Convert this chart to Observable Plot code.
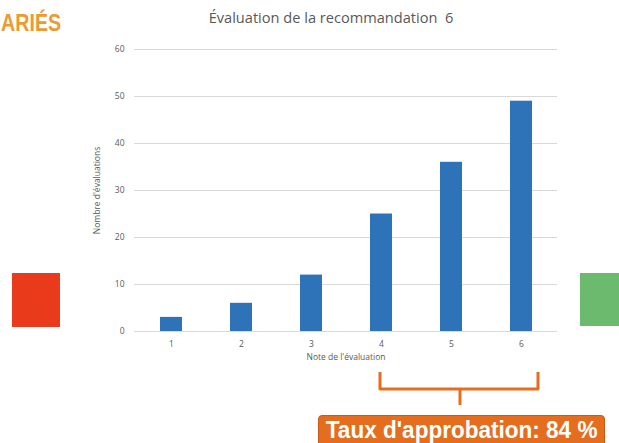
<!DOCTYPE html>
<html>
<head>
<meta charset="utf-8">
<script src="https://cdn.jsdelivr.net/npm/d3@7"></script>
<script src="https://cdn.jsdelivr.net/npm/@observablehq/plot@0.6"></script>
<style>
  html, body { margin: 0; padding: 0; background: #fff; }
  #wrap { position: relative; width: 619px; height: 443px; overflow: hidden; font-family: "Open Sans", sans-serif; }
  #chart { position: absolute; left: 0; top: 0; }
  .ov { position: absolute; }
  #title { left: 0; width: 662px; top: 7px; text-align: center; font-size: 14.6px; color: #595959; font-family: "Open Sans", sans-serif; }
  #brand { left: 1px; top: 9px; font-size: 24px; font-weight: bold; color: #ec9a32; font-family: "Liberation Sans", sans-serif; transform: scaleX(0.82); transform-origin: left center; }
  #red { left: 12px; top: 273px; width: 48px; height: 54px; background: #ea3a1c; }
  #green { left: 580px; top: 273px; width: 45px; height: 53px; background: #6cba6e; }
  #box { left: 318px; top: 415px; width: 285px; height: 34px; background: #e46e1e; border: 1px solid #c95a14; border-radius: 4px; color: #fff; text-align: center; line-height: 29px; white-space: nowrap; }
  #box span { display: inline-block; font-weight: bold; font-size: 23px; font-family: "Liberation Sans", sans-serif; transform: scaleX(0.98); transform-origin: center center; }
  #bracket { left: 0; top: 0; }
</style>
</head>
<body>
<div id="wrap">
  <div id="chart"></div>
  <div class="ov" id="brand">ARIÉS</div>
  <div class="ov" id="title">Évaluation de la recommandation&nbsp; 6</div>
  <div class="ov" id="red"></div>
  <div class="ov" id="green"></div>
  <svg class="ov" id="bracket" width="619" height="443">
    <path d="M380,372 V389 H538 V372 M460,389 V405" fill="none" stroke="#e46e1e" stroke-width="3" stroke-linejoin="round"/>
  </svg>
  <div class="ov" id="box"><span>Taux d'approbation: 84 %</span></div>
</div>
<script>
const notes = [1, 2, 3, 4, 5, 6];
const counts = [3, 6, 12, 25, 36, 49];
const yTicks = [0, 10, 20, 30, 40, 50, 60];

const data = notes.map((n, i) => ({note: n, count: counts[i]}));

const chart = Plot.plot({
  width: 619,
  height: 443,
  marginLeft: 134,
  marginRight: 62,
  marginTop: 49,
  marginBottom: 112,
  style: {fontFamily: "Open Sans, sans-serif", color: "#595959", background: "transparent"},
  x: {type: "band", domain: notes, paddingInner: 0.69, paddingOuter: 0.345},
  y: {domain: [0, 60]},
  marks: [
    Plot.ruleY(yTicks, {stroke: "#d9d9d9", strokeWidth: 1}),
    Plot.barY(data, {x: "note", y: "count", fill: "#2e73b8"}),
    Plot.axisX({tickSize: 0, tickPadding: 9, fontSize: 8.5, label: "Note de l'évaluation", labelAnchor: "center", labelOffset: 28, labelArrow: false}),
    Plot.axisY(yTicks, {tickSize: 0, tickPadding: 10, fontSize: 8.5, label: "Nombre d'évaluations", labelAnchor: "center", labelOffset: 41, labelArrow: false})
  ]
});
document.getElementById("chart").appendChild(chart);
</script>
</body>
</html>
